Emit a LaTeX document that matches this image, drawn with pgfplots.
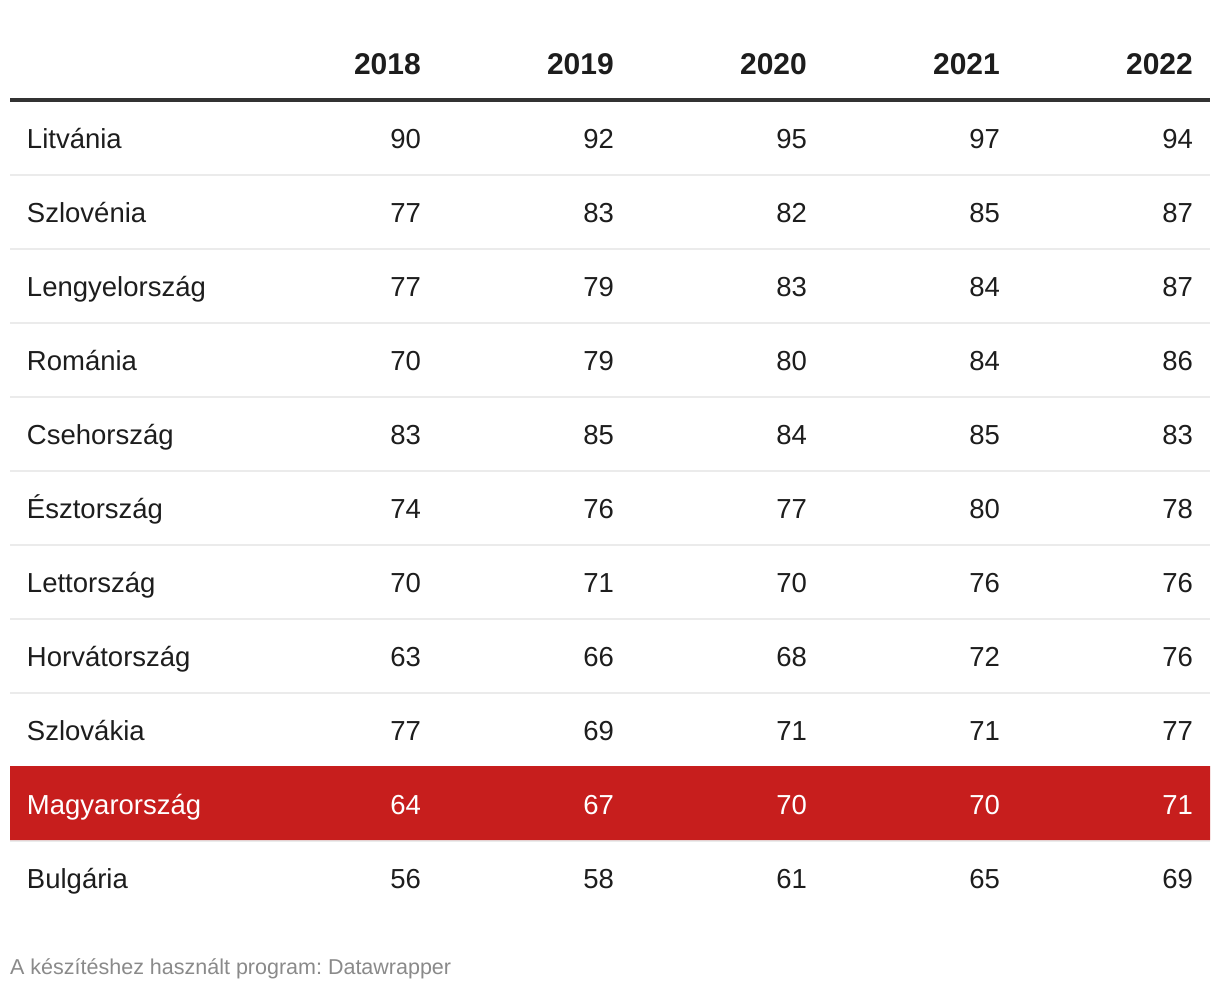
\documentclass[border=0pt]{standalone}
\usepackage{pgfplots}
\pgfplotsset{compat=1.18}
\usepackage{pgfplotstable}
\usepackage{fontspec}
\setmainfont{Liberation Sans}
\frenchspacing
\definecolor{txt}{HTML}{1D1D1D}
\definecolor{hl}{HTML}{C71E1D}
\definecolor{sep}{HTML}{EBEBEB}
\definecolor{rulec}{HTML}{333333}
\definecolor{foot}{HTML}{8A8A8A}

\pgfplotstableread{
name y a b c d e
Litvánia 148 90 92 95 97 94
Szlovénia 222 77 83 82 85 87
Lengyelország 296 77 79 83 84 87
Románia 370 70 79 80 84 86
Csehország 444 83 85 84 85 83
Észtország 518 74 76 77 80 78
Lettország 592 70 71 70 76 76
Horvátország 666 63 66 68 72 76
Szlovákia 740 77 69 71 71 77
Bulgária 888 56 58 61 65 69
}\data

\pgfplotstableread{
name y a b c d e
Magyarország 814 64 67 70 70 71
}\hu

\begin{document}
\begin{tikzpicture}
\begin{axis}[
  hide axis, scale only axis,
  width=1220pt, height=990pt,
  xmin=0, xmax=1220, ymin=0, ymax=990,
  y dir=reverse, clip=false,
  lbl/.style={draw=none, mark=none, point meta=explicit symbolic, nodes near coords,
    every node near coord/.style={anchor=base east, inner sep=0pt, outer sep=0pt, text=txt, font=\fontsize{27.5pt}{33pt}\selectfont}},
]
% background / bounding box
\fill[white] (axis cs:0,0) rectangle (axis cs:1220,990);
% separators
\foreach \k in {0,...,9} {
  \edef\temp{\noexpand\draw[sep, line width=2pt] (axis cs:10,{175+74*\k}) -- (axis cs:1210,{175+74*\k});}
  \temp
}
% header rule
\draw[rulec, line width=4pt] (axis cs:10,100.3) -- (axis cs:1210,100.3);
% highlight band
\addplot[fill=hl, draw=none, mark=none] coordinates {(10,766) (1210,766) (1210,840) (10,840) (10,766)};

% header
\foreach \yr/\xx in {2018/421,2019/614,2020/807,2021/1000,2022/1193} {
  \edef\temp{\noexpand\node[anchor=base east, inner sep=0pt, text=txt, font=\noexpand\fontsize{30pt}{36pt}\noexpand\selectfont\noexpand\bfseries] at (axis cs:\xx,74.3) {\yr};}
  \temp
}

% country names and values
\addplot[lbl, every node near coord/.append style={anchor=base west}] table[x expr=27, y=y, meta=name] {\data};
\addplot[lbl] table[x expr=421, y=y, meta=a] {\data};
\addplot[lbl] table[x expr=614, y=y, meta=b] {\data};
\addplot[lbl] table[x expr=807, y=y, meta=c] {\data};
\addplot[lbl] table[x expr=1000, y=y, meta=d] {\data};
\addplot[lbl] table[x expr=1193, y=y, meta=e] {\data};

% highlighted row
\addplot[lbl, every node near coord/.append style={anchor=base west, text=white}] table[x expr=27, y=y, meta=name] {\hu};
\addplot[lbl, every node near coord/.append style={text=white}] table[x expr=421, y=y, meta=a] {\hu};
\addplot[lbl, every node near coord/.append style={text=white}] table[x expr=614, y=y, meta=b] {\hu};
\addplot[lbl, every node near coord/.append style={text=white}] table[x expr=807, y=y, meta=c] {\hu};
\addplot[lbl, every node near coord/.append style={text=white}] table[x expr=1000, y=y, meta=d] {\hu};
\addplot[lbl, every node near coord/.append style={text=white}] table[x expr=1193, y=y, meta=e] {\hu};

% footer
\node[anchor=base west, inner sep=0pt, text=foot, font=\fontsize{21.5pt}{26pt}\selectfont] at (axis cs:10,974) {A készítéshez használt program: Datawrapper};
\end{axis}
\end{tikzpicture}
\end{document}
